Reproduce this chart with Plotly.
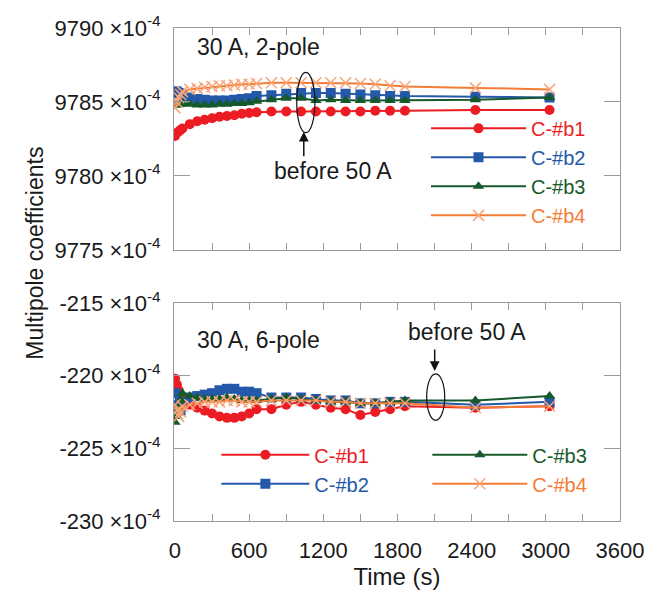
import plotly.graph_objects as go

# Measurement times (s)
time_s = [0, 15, 30, 45, 60, 120, 180, 240, 300, 360, 420, 480, 540, 600, 660,
          780, 900, 1020, 1140, 1260, 1380, 1500, 1620, 1740, 1860, 2430, 3030]

# 2-pole coefficients (units of 1e-4)
b2_pole = {
    "C-#b1": [9782.7, 9782.9, 9783.0, 9783.1, 9783.2, 9783.5, 9783.7, 9783.8, 9783.9,
              9784.0, 9784.05, 9784.1, 9784.2, 9784.25, 9784.3, 9784.35, 9784.35,
              9784.35, 9784.35, 9784.35, 9784.35, 9784.35, 9784.4, 9784.4, 9784.4,
              9784.45, 9784.45],
    "C-#b2": [9785.7, 9785.7, 9785.6, 9785.5, 9785.4, 9785.3, 9785.2, 9785.15, 9785.1,
              9785.1, 9785.1, 9785.15, 9785.2, 9785.25, 9785.4, 9785.45, 9785.55,
              9785.6, 9785.6, 9785.6, 9785.55, 9785.5, 9785.45, 9785.4, 9785.4,
              9785.35, 9785.3],
    "C-#b3": [9784.8, 9784.8, 9784.85, 9784.85, 9784.9, 9784.85, 9784.8, 9784.8, 9784.8,
              9784.85, 9784.85, 9784.9, 9784.9, 9784.95, 9785.05, 9785.15, 9785.25,
              9785.25, 9785.1, 9785.15, 9785.1, 9785.1, 9785.1, 9785.1, 9785.1,
              9785.15, 9785.3],
    "C-#b4": [9784.6, 9785.0, 9785.3, 9785.5, 9785.7, 9785.85, 9785.9, 9786.0, 9786.05,
              9786.1, 9786.1, 9786.15, 9786.2, 9786.2, 9786.25, 9786.3, 9786.3,
              9786.3, 9786.3, 9786.3, 9786.3, 9786.25, 9786.2, 9786.1, 9786.05,
              9785.95, 9785.85],
}

# 6-pole coefficients (units of 1e-4)
b6_pole = {
    "C-#b1": [-220.2, -220.6, -221.0, -221.4, -221.8, -222.0, -222.2, -222.4, -222.6,
              -222.8, -222.9, -222.9, -222.8, -222.6, -222.3, -222.3, -222.0, -221.8,
              -222.0, -222.2, -222.3, -222.7, -222.5, -222.3, -222.1, -222.2, -222.1],
    "C-#b2": [-221.2, -222.0, -222.3, -222.4, -221.8, -221.5, -221.4, -221.3, -221.2,
              -221.0, -220.9, -220.9, -221.1, -221.1, -221.2, -221.5, -221.5, -221.5,
              -221.6, -221.7, -221.7, -221.9, -221.9, -221.8, -221.8, -222.0, -221.8],
    "C-#b3": [-223.2, -222.8, -222.2, -221.7, -221.2, -221.4, -221.5, -221.6, -221.6,
              -221.6, -221.5, -221.6, -221.7, -221.7, -221.7, -221.6, -221.5, -221.6,
              -221.7, -221.8, -221.8, -221.9, -221.9, -221.8, -221.7, -221.7, -221.4],
    "C-#b4": [-222.0, -222.4, -222.8, -222.5, -222.1, -222.0, -221.9, -221.8, -221.8,
              -221.8, -221.7, -221.7, -221.8, -221.8, -221.8, -221.7, -221.7, -221.7,
              -221.7, -221.8, -221.8, -221.9, -221.9, -221.9, -221.9, -222.2, -222.1],
}

series_names = ["C-#b1", "C-#b2", "C-#b3", "C-#b4"]
colors = {"C-#b1": "#ec1c24", "C-#b2": "#2458a8", "C-#b3": "#16592b", "C-#b4": "#f47c36"}
symbols = {"C-#b1": "circle", "C-#b2": "square", "C-#b3": "triangle-up", "C-#b4": "x-thin"}

top_ticks = [9775, 9780, 9785, 9790]
bottom_ticks = [-230, -225, -220, -215]
x_ticks = list(range(0, 3601, 300))
x_labels = [str(v) if v % 600 == 0 else "" for v in x_ticks]

FONT = "Liberation Sans, Arial, sans-serif"
AXIS_GRAY = "#9a9a9a"


def marker_for(name):
    if symbols[name] == "x-thin":
        return dict(symbol="x-thin", size=11, color="#f8a57a",
                    line=dict(width=1.5, color="#f8a57a"))
    return dict(symbol=symbols[name], size=10, color=colors[name])


def label(name):
    return f"<span style='color:{colors[name]}'>{name}</span>"


fig = go.Figure()

for name in series_names:
    fig.add_trace(go.Scatter(
        x=time_s, y=b2_pole[name], mode="lines+markers", name=label(name),
        line=dict(color=colors[name], width=2), marker=marker_for(name),
        xaxis="x", yaxis="y", legend="legend",
    ))

for i, name in enumerate(series_names):
    fig.add_trace(go.Scatter(
        x=time_s, y=b6_pole[name], mode="lines+markers", name=label(name),
        line=dict(color=colors[name], width=2), marker=marker_for(name),
        xaxis="x2", yaxis="y2", legend="legend2" if i < 2 else "legend3",
    ))

axis_common = dict(showline=True, linecolor=AXIS_GRAY, linewidth=1, mirror="ticks",
                   ticks="inside", tickcolor=AXIS_GRAY, showgrid=False, zeroline=False,
                   tickfont=dict(family=FONT, size=22, color="#1a1a1a"))

legend_common = dict(xanchor="left", yanchor="top", traceorder="normal",
                     bgcolor="rgba(0,0,0,0)", font=dict(family=FONT, size=20))

xr = [-8, 3600]
fig.update_layout(
    width=661, height=594,
    margin=dict(l=174, r=41, t=18, b=67),
    paper_bgcolor="white", plot_bgcolor="white",
    font=dict(family=FONT, color="#1a1a1a"),
    xaxis=dict(domain=[0, 1], anchor="y", range=xr, tickvals=x_ticks,
               ticktext=["" for _ in x_ticks], ticklen=7, **axis_common),
    yaxis=dict(domain=[0.55, 1.0], anchor="x", range=[9775, 9790], tickvals=top_ticks,
               ticktext=[f"{v} ×10<sup>-4</sup>" for v in top_ticks], ticklen=16,
               ticklabelstandoff=8, **axis_common),
    xaxis2=dict(domain=[0, 1], anchor="y2", range=xr, tickvals=x_ticks, ticktext=x_labels,
                ticklen=7, ticklabelstandoff=10,
                title=dict(text="Time (s)", font=dict(family=FONT, size=24), standoff=2),
                **axis_common),
    yaxis2=dict(domain=[0, 0.442], anchor="x2", range=[-230, -215], tickvals=bottom_ticks,
                ticktext=[f"{v} ×10<sup>-4</sup>" for v in bottom_ticks], ticklen=16,
                ticklabelstandoff=8, **axis_common),
    legend=dict(x=0.565, y=0.836, itemwidth=95, **legend_common),
    legend2=dict(x=0.095, y=0.174, itemwidth=88, **legend_common),
    legend3=dict(x=0.568, y=0.174, itemwidth=95, **legend_common),
    showlegend=True,
)

# Ellipses marking the point taken before the 50 A run
fig.add_shape(type="circle", xref="x", yref="y", x0=985, x1=1132, y0=9782.92, y1=9787.0,
              line=dict(color="#111111", width=1.2))
fig.add_shape(type="circle", xref="x2", yref="y2", x0=2036, x1=2182, y0=-223.07, y1=-219.87,
              line=dict(color="#111111", width=1.2))

annotations = [
    dict(text="30 A, 2-pole", xref="paper", yref="paper", x=0.047, y=0.962,
         xanchor="left", yanchor="middle", showarrow=False, font=dict(size=23)),
    dict(text="30 A, 6-pole", xref="paper", yref="paper", x=0.047, y=0.367,
         xanchor="left", yanchor="middle", showarrow=False, font=dict(size=23)),
    dict(text="before 50 A", xref="paper", yref="paper", x=0.357, y=0.709,
         xanchor="center", yanchor="middle", showarrow=False, font=dict(size=23)),
    dict(text="before 50 A", xref="paper", yref="paper", x=0.657, y=0.383,
         xanchor="center", yanchor="middle", showarrow=False, font=dict(size=23)),
    dict(text="", xref="x", yref="y", x=1042, y=9782.99, ax=0, ay=26, showarrow=True,
         arrowhead=2, arrowsize=1.3, arrowwidth=1.5, arrowcolor="#111111"),
    dict(text="", xref="x2", yref="y2", x=2101, y=-219.67, ax=0, ay=-23, showarrow=True,
         arrowhead=2, arrowsize=1.3, arrowwidth=1.5, arrowcolor="#111111"),
    dict(text="Multipole coefficients", xref="paper", yref="paper",
         x=(35 - 174) / 446, y=(527 - 251) / 509, textangle=-90,
         xanchor="center", yanchor="middle", showarrow=False, font=dict(size=23)),
]
for a in annotations:
    if "font" in a:
        a["font"] = dict(family=FONT, color="#1a1a1a", **a["font"])
    fig.add_annotation(**a)

fig.write_html("out.html")
